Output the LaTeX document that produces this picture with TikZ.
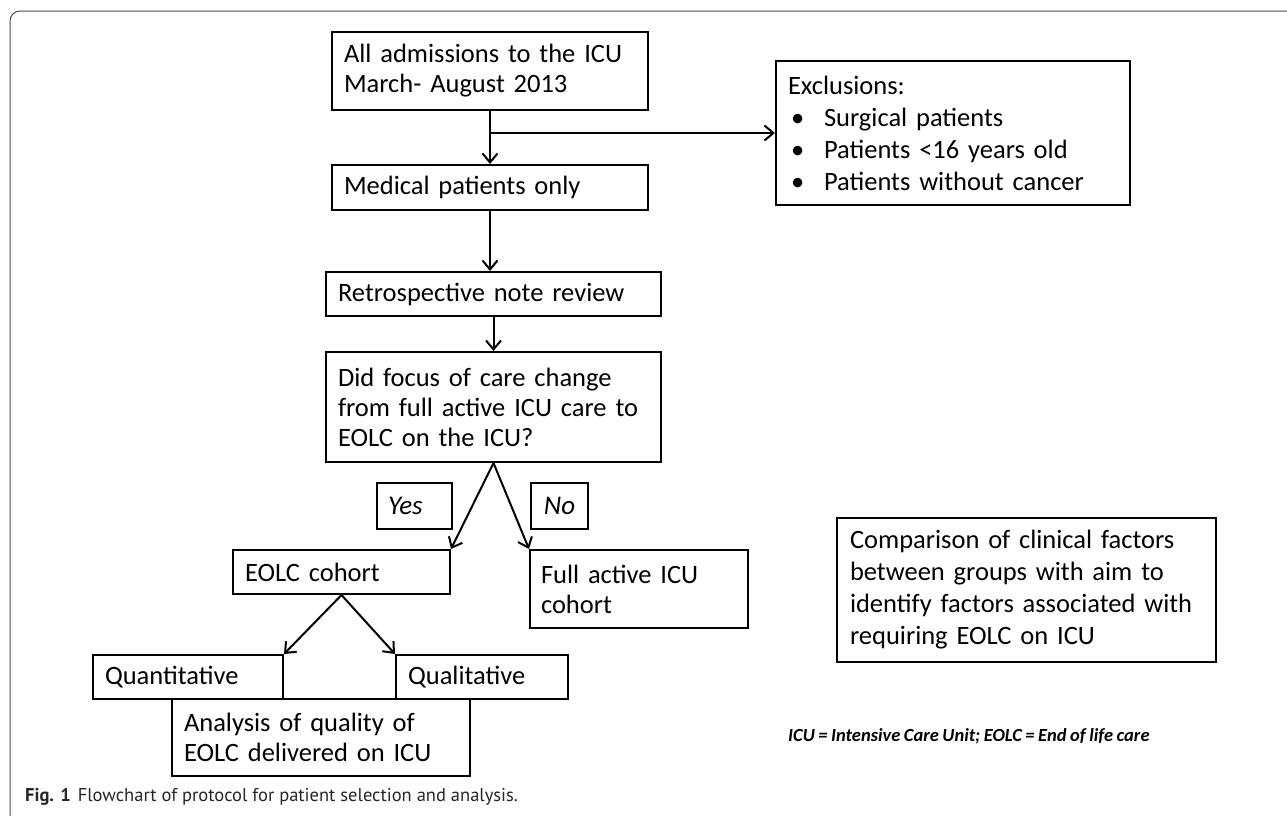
\documentclass[tikz,border=0pt]{standalone}
\usepackage{fontspec}
\setmainfont{Carlito}[WordSpace=0.85]
\newfontfamily\capfont{PT Sans}
\usetikzlibrary{arrows.meta}
\begin{document}
\begin{tikzpicture}[x=1pt,y=-1pt,
 fbox/.style={draw, line width=2pt, inner xsep=12pt, inner ysep=0pt, align=left, font=\fontsize{26.5}{30}\selectfont, anchor=center},
 wbox/.style={fbox, font=\fontsize{26.5}{32}\selectfont},
 arr/.style={line width=2pt, -{Straight Barb[length=9pt,width=15pt,line width=2pt]}},
 lbl/.style={draw, line width=2pt, inner sep=0pt, font=\fontsize{27}{30}\selectfont\itshape, anchor=center}]
\useasboundingbox (0,0) rectangle (1287,815);
\fill[white] (0,0) rectangle (1287,815);
\draw[line width=1pt, black!70, rounded corners=10pt] (10,830) -- (10,11) -- (1300,11);

\node[fbox, minimum width=316, minimum height=78, text width=292] (b1) at (490,71) {All admissions to the ICU\\March- August 2013};
\node[fbox, minimum width=316, minimum height=45, text width=292] (b2) at (490,187.5) {Medical patients only};
\node[fbox, minimum width=335, minimum height=44, text width=311] (b3) at (493.5,294) {Retrospective note review};
\node[fbox, minimum width=335, minimum height=110, text width=311] (b4) at (493.5,407) {Did focus of care change\\from full active ICU care to\\EOLC on the ICU?};
\node[wbox, minimum width=354, minimum height=144, text width=330] (excl) at (953,133) {Exclusions:\\\makebox[36pt][l]{\hspace{3pt}•}Surgical patients\\\makebox[36pt][l]{\hspace{3pt}•}Patients <16 years old\\\makebox[36pt][l]{\hspace{3pt}•}Patients without cancer};
\node[lbl, minimum width=75, minimum height=46, text width=53, inner xsep=11pt, align=left] (yes) at (414.5,506) {Yes};
\node[lbl, minimum width=57, minimum height=46] (no) at (559.5,506) {No};
\node[fbox, minimum width=217, minimum height=44, text width=193] (eolc) at (341.5,572) {EOLC cohort};
\node[fbox, minimum width=218, minimum height=78, text width=196, inner xsep=11pt] (full) at (639,589) {Full active ICU\\cohort};
\node[fbox, minimum width=298, minimum height=77, text width=274] (anal) at (321,737.5) {Analysis of quality of\\EOLC delivered on ICU};
\node[fbox, minimum width=190, minimum height=44, text width=166] (quant) at (188,677) {Quantitative};
\node[fbox, minimum width=172, minimum height=44, text width=148] (qual) at (482,677) {Qualitative};
\node[wbox, minimum width=379, minimum height=144, text width=353, inner xsep=13pt] (comp) at (1026.5,590) {Comparison of clinical factors\\between groups with aim to\\identify factors associated with\\requiring EOLC on ICU};
\node[anchor=west, inner sep=0pt, font=\fontsize{18.5}{20}\selectfont\bfseries\itshape] (foot) at (788,736) {ICU = Intensive Care Unit; EOLC = End of life care};
\node[anchor=west, inner sep=0pt, font=\capfont\fontsize{18.5}{20}\selectfont, text=black!85] (cap) at (25,797) {\textbf{Fig. 1}\hspace{7pt}Flowchart of protocol for patient selection and analysis.};

\coordinate (br) at (490,133);
\draw[arr] (b1.south) -- (b2.north);
\draw[arr] (br) -- (excl.west);
\draw[arr] (b2.south) -- (b2.south |- b3.north);
\draw[arr] (b3.south) -- (b4.north);
\draw[arr] (b4.south) -- (eolc.north east);
\draw[arr] (b4.south) -- (full.north west);
\draw[arr] (eolc.south) -- (quant.north east);
\draw[arr] (eolc.south) -- (qual.north west);
\end{tikzpicture}
\end{document}
